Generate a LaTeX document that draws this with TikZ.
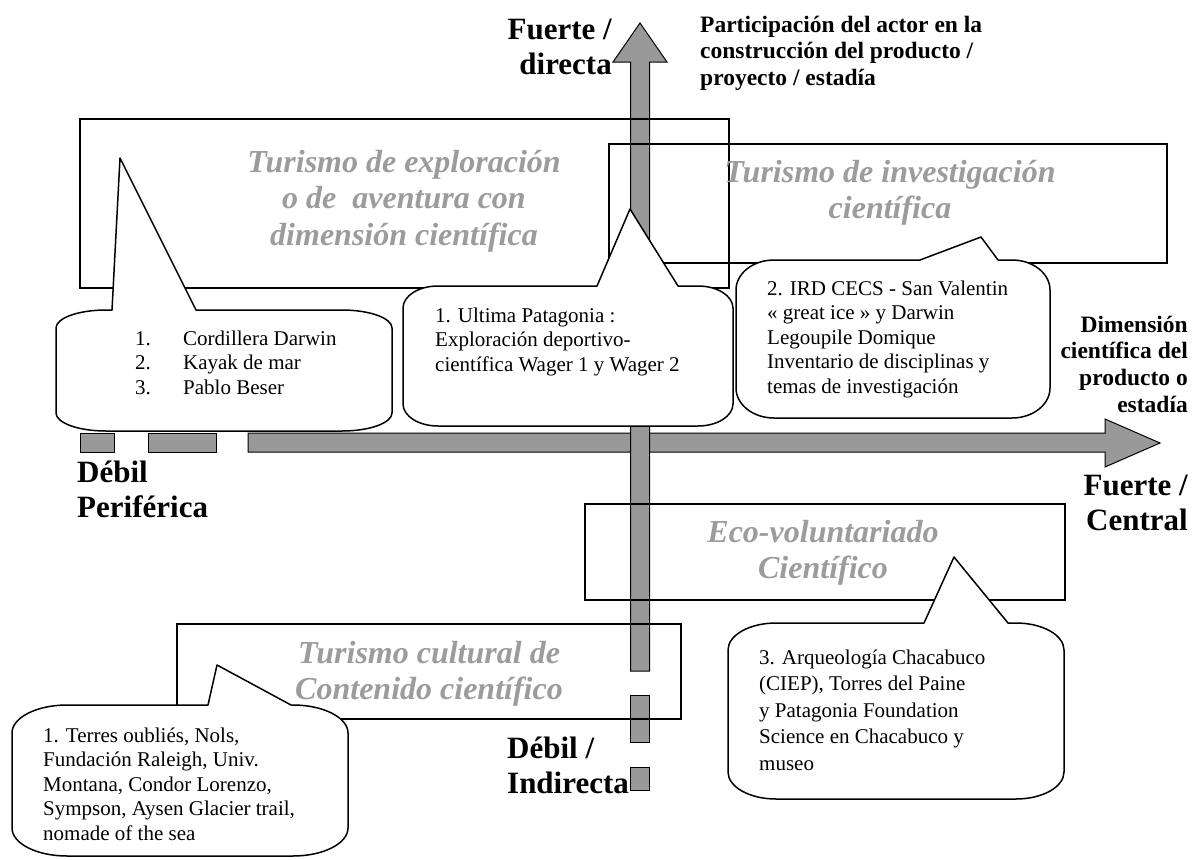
\documentclass[tikz,border=0pt]{standalone}
\usepackage{fontspec}
\setmainfont{Liberation Serif}
\definecolor{arrowgray}{HTML}{999999}
\definecolor{titlegray}{HTML}{9C9C9C}
\newcommand{\mycallout}[9]{%
 \draw[callout] (#7,#2) -- #8 -- (#9,#2) -- ({#3-#5},#2)
  .. controls ({#3-0.448*#5},#2) and (#3,{#2+0.448*#6}) .. (#3,{#2+#6})
  -- (#3,{#4-#6})
  .. controls (#3,{#4-0.448*#6}) and ({#3-0.448*#5},#4) .. ({#3-#5},#4)
  -- ({#1+#5},#4)
  .. controls ({#1+0.448*#5},#4) and (#1,{#4-0.448*#6}) .. (#1,{#4-#6})
  -- (#1,{#2+#6})
  .. controls (#1,{#2+0.448*#6}) and ({#1+0.448*#5},#2) .. ({#1+#5},#2)
  -- cycle;}
\tikzset{
 axisarrow/.style={fill=arrowgray, draw=black, line width=1pt},
 catbox/.style={draw=black, line width=2pt, inner sep=0pt, anchor=north west},
 callout/.style={draw=black, fill=white, line width=1.5pt, line join=round},
 ctext/.style={font=\fontsize{21}{24.5}\selectfont, align=left, anchor=north west, inner sep=0pt},
 ctextwide/.style={font=\fontsize{21}{26.5}\selectfont, align=left, anchor=north west, inner sep=0pt},
 ttext/.style={font=\fontsize{32}{36.5}\selectfont\bfseries\itshape, text=titlegray, align=center, anchor=north, inner sep=0pt},
 blabel/.style={font=\fontsize{31}{35.5}\selectfont\bfseries, inner sep=0pt},
 slabel/.style={font=\fontsize{23.5}{26.7}\selectfont\bfseries, inner sep=0pt},
}
\begin{document}
\begin{tikzpicture}[x=1pt,y=-1pt]
\fill[white] (0,0) rectangle (1195,860);
\useasboundingbox (0,0) rectangle (1195,860);

% horizontal axis
\draw[axisarrow] (80,433) rectangle (114,452);
\draw[axisarrow] (148,433) rectangle (216,452);
\draw[axisarrow] (248,433) -- (1105,433) -- (1105,419) -- (1160,443) -- (1105,467) -- (1105,452) -- (248,452) -- cycle;
% vertical axis
\draw[axisarrow] (630.5,671) -- (630.5,62) -- (613,62) -- (640,23) -- (667,62) -- (649.5,62) -- (649.5,671) -- cycle;
\draw[axisarrow] (630.5,695) rectangle (649.5,742);
\draw[axisarrow] (630.5,767) rectangle (649.5,790);

% category boxes
\node[catbox, minimum width=649pt, minimum height=169pt] (box1) at (79,118) {};
\node[catbox, minimum width=558pt, minimum height=119pt] (box2) at (608,143) {};
\node[catbox, minimum width=480pt, minimum height=96pt] (box3) at (584,503) {};
\node[catbox, minimum width=504pt, minimum height=95pt] (box4) at (176,623) {};

% callouts
\mycallout{56}{310}{392}{431}{50}{18}{112}{(120,158)}{196}
\mycallout{403}{286}{733}{426}{35}{22}{597}{(630,209)}{678}
\mycallout{736}{260}{1050}{418}{38}{30}{920}{(981,237)}{998}
\mycallout{12}{705}{348}{856}{55}{28}{208}{(217,665)}{291}
\mycallout{728}{623}{1064}{799}{48}{27}{924}{(954,557)}{1008}

% titles
\node[ttext] (t1) at (404,146.45) {\strut Turismo de exploración\\o de\ \ aventura con\\dimensión científica};
\node[ttext] (t2) at (890,156.45) {\strut Turismo de investigación\\científica};
\node[ttext] (t3) at (823,516.45) {\strut Eco-voluntariado\\Científico};
\node[ttext] (t4) at (429,637.45) {\strut Turismo cultural de\\Contenido científico};

% callout texts
\node[ctext] (c1) at (135,327.85) {\strut\makebox[48pt][l]{1.}Cordillera Darwin\\\makebox[48pt][l]{2.}Kayak de mar\\\makebox[48pt][l]{3.}Pablo Beser};
\node[ctext] (c2) at (435,304.85) {\strut 1. Ultima Patagonia :\\Exploración deportivo-\\científica Wager 1 y Wager 2};
\node[ctext] (c3) at (767,277.85) {\strut 2. IRD CECS - San Valentin\\« great ice » y Darwin\\Legoupile Domique\\Inventario de disciplinas y\\temas de investigación};
\node[ctext] (c4) at (43,724.85) {\strut 1. Terres oubliés, Nols,\\Fundación Raleigh, Univ.\\Montana, Condor Lorenzo,\\Sympson, Aysen Glacier trail,\\nomade of the sea};
\node[ctextwide] (c5) at (759,645.45) {\strut 3. Arqueología Chacabuco\\(CIEP), Torres del Paine\\y Patagonia Foundation\\Science en Chacabuco y\\museo};

% axis labels
\node[blabel, align=right, anchor=north east] (fd) at (612,14.15) {\strut Fuerte /\\directa};
\node[blabel, align=left, anchor=north west] (dp) at (77,457.15) {\strut Débil\\Periférica};
\node[blabel, align=right, anchor=north east] (fc) at (1188,470.15) {\strut Fuerte /\\Central};
\node[blabel, align=left, anchor=north west] (di) at (507,733.15) {\strut Débil /\\Indirecta};
\node[slabel, align=left, anchor=north west] (pa) at (700,13.3) {\strut Participación del actor en la\\construcción del producto /\\proyecto / estadía};
\node[slabel, align=right, anchor=north east] (dc) at (1188,313.3) {\strut Dimensión\\científica del\\producto o\\estadía};
\end{tikzpicture}
\end{document}
